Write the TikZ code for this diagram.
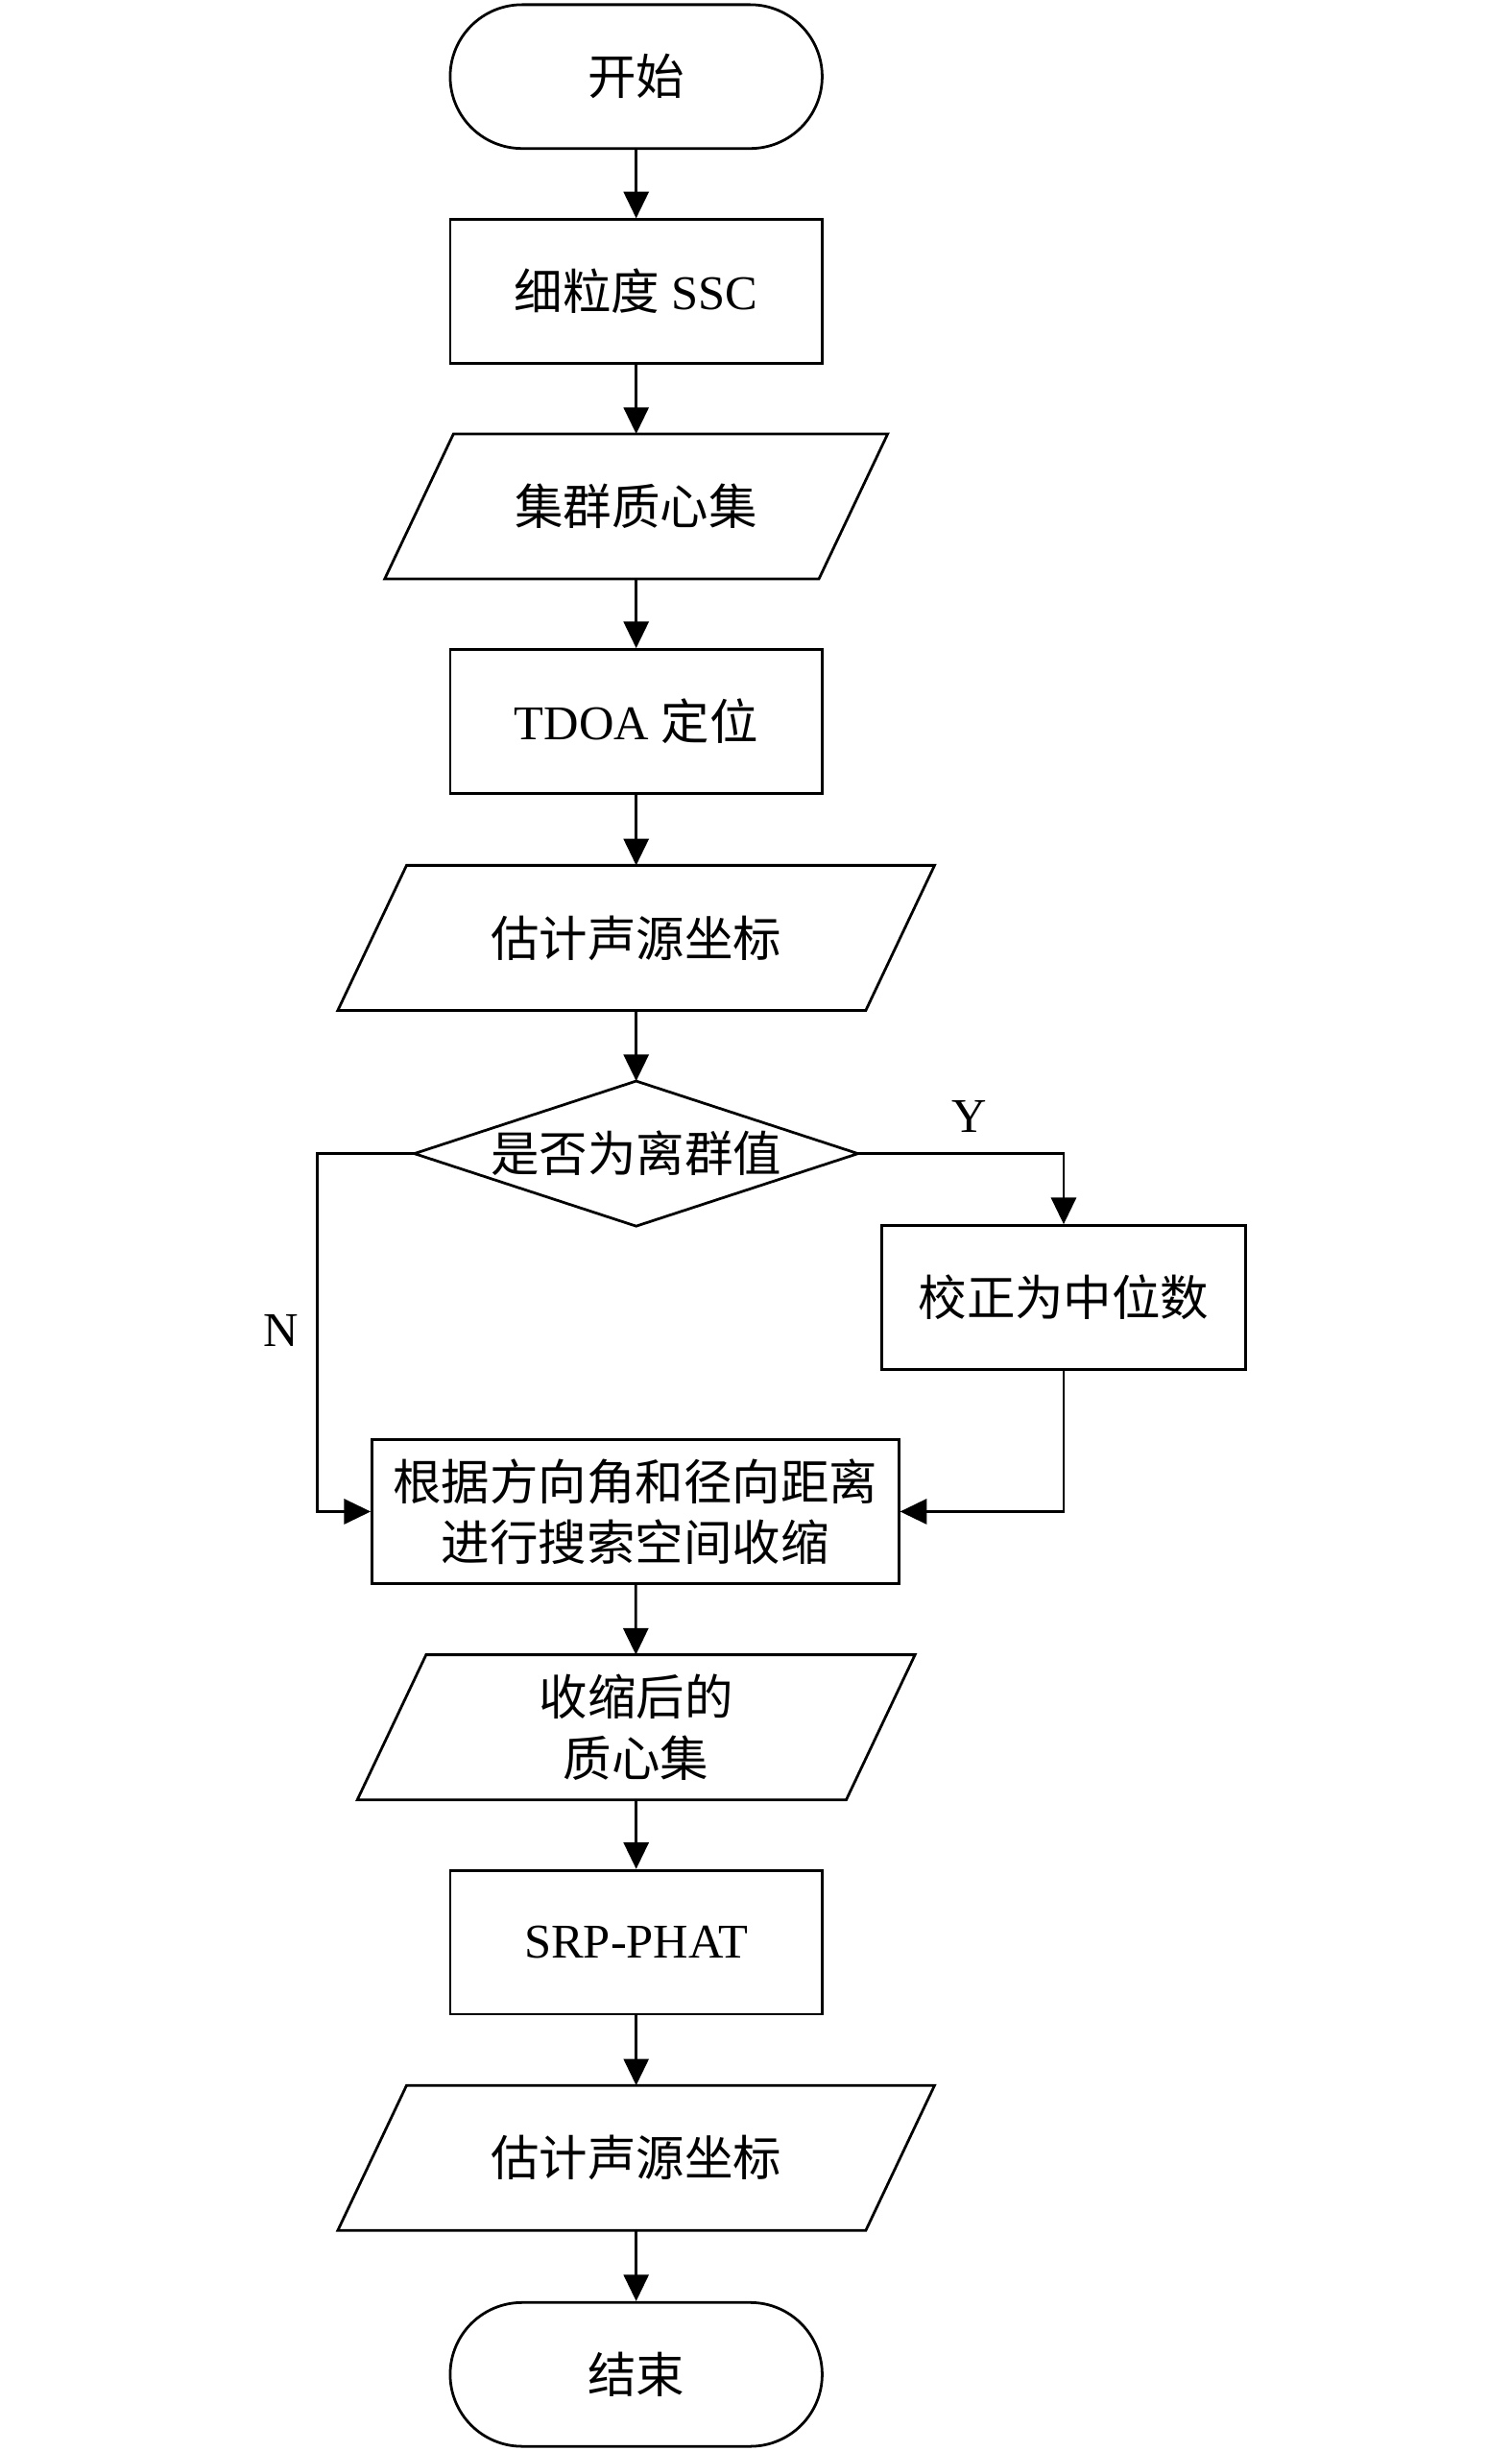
\documentclass[tikz,border=0pt]{standalone}
\usepackage{fontspec}
\setmainfont{Liberation Serif}
\newfontfamily\cjk{Noto Sans CJK SC}
\usetikzlibrary{arrows.meta,calc}
\begin{document}
\begin{tikzpicture}[x=0.5pt,y=-0.5pt,
  conn/.style={line width=0.85pt},
  arr/.style={line width=0.85pt,-{Triangle[length=8.5pt,width=8pt]}},
  nodebase/.style={inner sep=0pt,minimum height=46pt,align=center,font=\fontsize{15.5}{19.5}\selectfont},
  term/.style={nodebase,draw,line width=0.85pt,rounded corners=23pt,minimum width=119pt},
  proc/.style={nodebase,draw,line width=0.85pt,minimum width=#1},
  para/.style={nodebase,minimum width=#1},
  lbl/.style={font=\fontsize{15.5}{19}\selectfont,inner sep=0pt}
]
\useasboundingbox (0,0) rectangle (967,1568);
\fill[white] (0,0) rectangle (967,1568);

\node[term] (start) at (407,49) {\cjk 开始};
\node[proc=119pt] (ssc) at (407,186.5) {{\cjk 细粒度} SSC};
\node[para=138.5pt] (p1) at (407,324) {\cjk 集群质心集};
\node[proc=119pt] (tdoa) at (407,461.5) {TDOA {\cjk 定位}};
\node[para=168.5pt] (p2) at (407,600) {\cjk 估计声源坐标};
\node[nodebase,minimum width=141.5pt] (dec) at (407,738) {\cjk 是否为离群值};
\node[proc=116.5pt] (fix) at (680.5,830) {\cjk 校正为中位数};
\node[proc=168.5pt] (shrink) at (406.5,967) {\cjk 根据方向角和径向距离\\\cjk 进行搜索空间收缩};
\node[para=156pt] (p3) at (407,1105) {\cjk 收缩后的\\\cjk 质心集};
\node[proc=119pt] (srp) at (407,1242.5) {SRP-PHAT};
\node[para=168.5pt] (p4) at (407,1380.5) {\cjk 估计声源坐标};
\node[term] (stop) at (407,1519) {\cjk 结束};

% parallelogram outlines
\foreach \n in {p1,p2,p3,p4}{
  \draw[conn,line join=miter] ([xshift=11pt]\n.north west) -- ([xshift=11pt]\n.north east)
    -- ([xshift=-11pt]\n.south east) -- ([xshift=-11pt]\n.south west) -- cycle;
}
% diamond outline
\draw[conn] (dec.north) -- (dec.east) -- (dec.south) -- (dec.west) -- cycle;

% labels
\node[lbl] (ylab) at (620,714) {Y};
\node[lbl] (nlab) at (180,851) {N};

% connectors
\draw[arr] (start) -- (ssc);
\draw[arr] (ssc) -- (p1);
\draw[arr] (p1) -- (tdoa);
\draw[arr] (tdoa) -- (p2);
\draw[arr] (p2) -- (dec);
\draw[arr] (dec.east) -| (fix.north);
\coordinate (ncorner) at (203,738);
\draw[arr] (dec.west) -- (ncorner) |- (shrink.west);
\draw[arr] (fix.south) |- (shrink.east);
\draw[arr] (shrink) -- (p3);
\draw[arr] (p3) -- (srp);
\draw[arr] (srp) -- (p4);
\draw[arr] (p4) -- (stop);
\end{tikzpicture}
\end{document}
